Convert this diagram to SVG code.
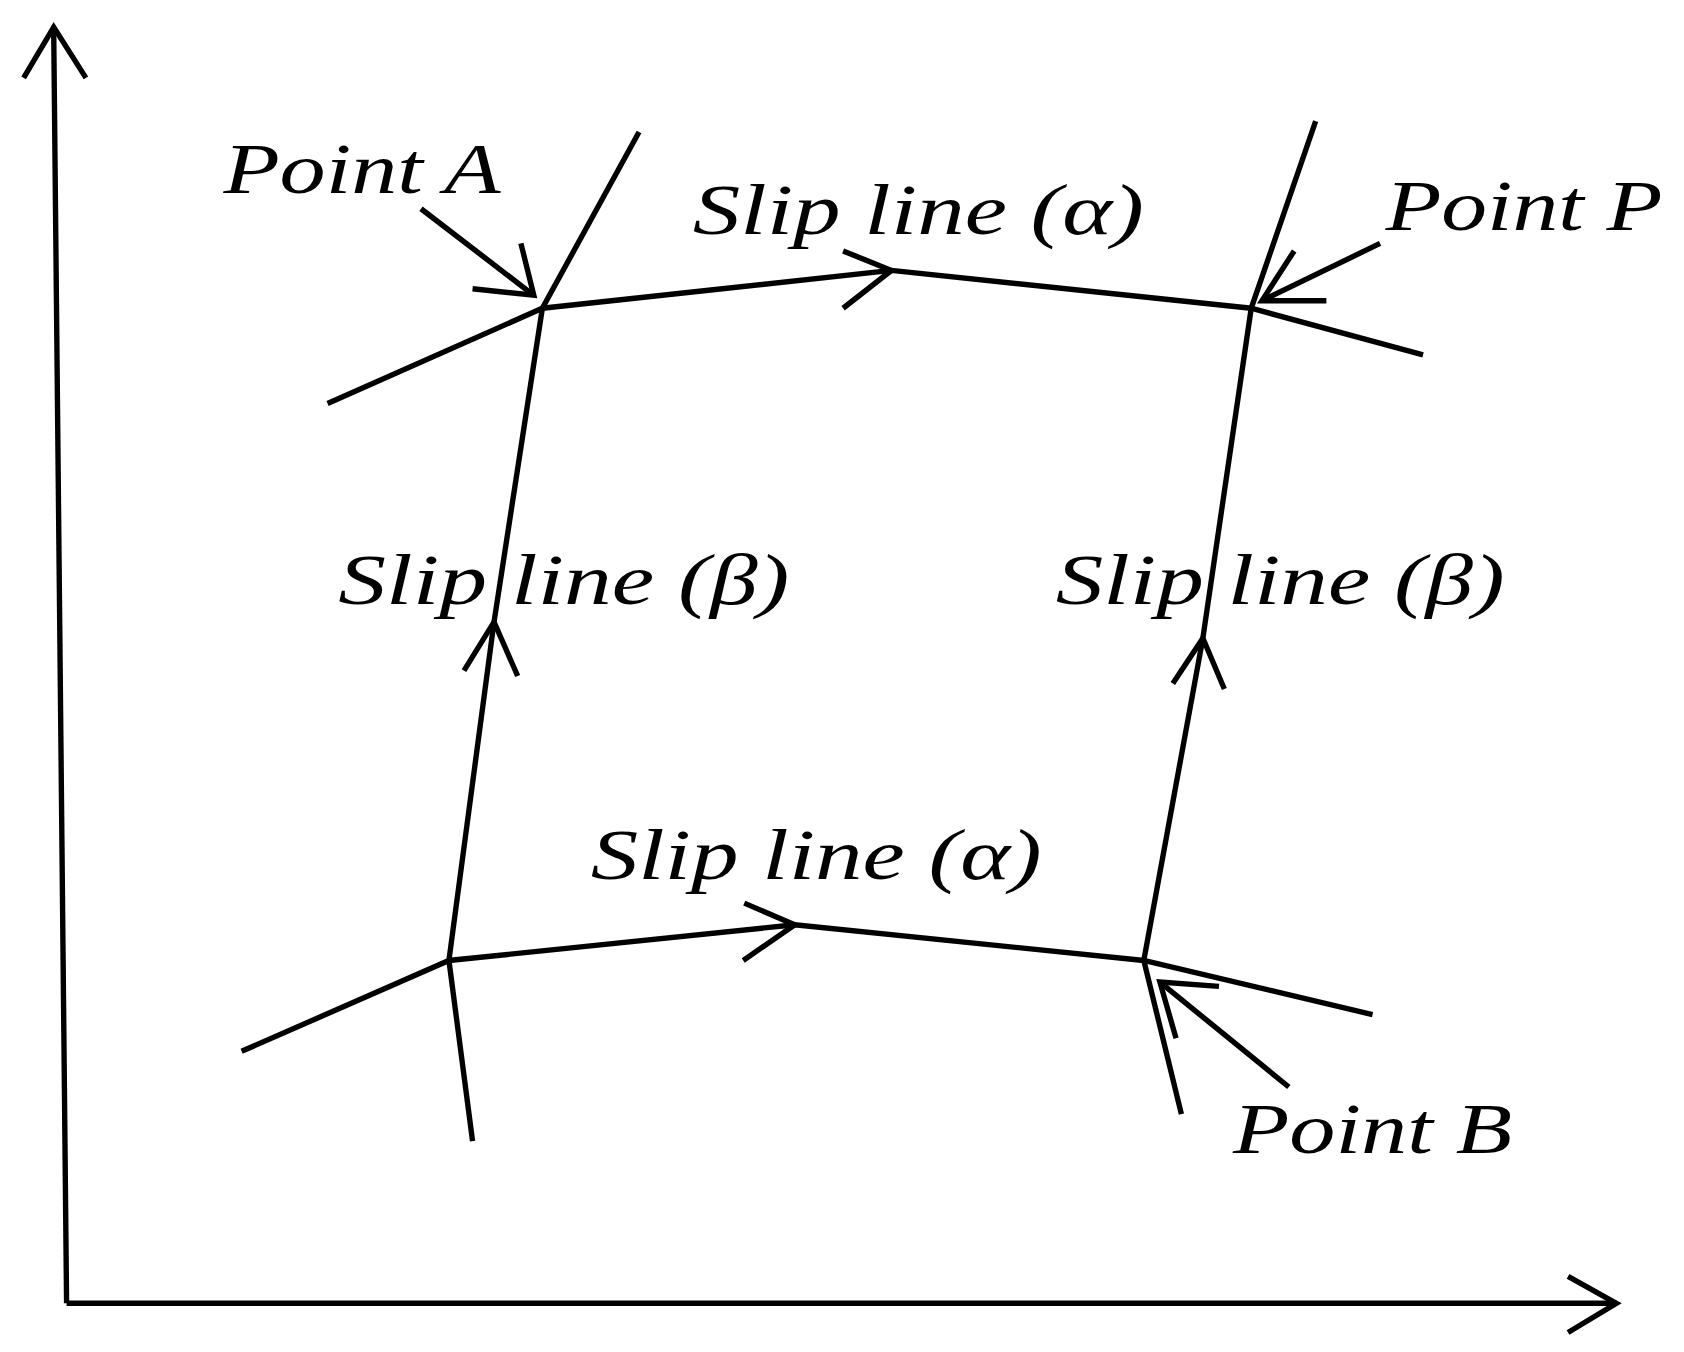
<svg xmlns="http://www.w3.org/2000/svg" width="1684" height="1352" viewBox="0 0 1684 1352">
<style>
.l{fill:none;stroke:#000;stroke-width:5;stroke-linejoin:miter;stroke-linecap:butt}
.t{font-family:"Liberation Serif",serif;font-style:italic;font-size:66px;fill:#000}
</style>
<rect width="1684" height="1352" fill="#fff"/>
<g transform="scale(1.074,1.0816)">
<g id="connectors">
<polyline class="l" points="62,1205 50,28"/>
<polyline class="l" points="22,72 50,25 80,72"/>
<polyline class="l" points="62,1205 1505,1205"/>
<polyline class="l" points="1460,1180 1505,1205 1460,1232"/>
<polyline class="l" points="305,373 505,285 830,250 1165,285 1325,328"/>
<polyline class="l" points="785,232 830,250 785,285"/>
<polyline class="l" points="595,122 505,285 460,575 418,888 440,1055"/>
<polyline class="l" points="432,620 460,575 482,625"/>
<polyline class="l" points="1225,112 1165,285 1120,590 1065,888 1100,1030"/>
<polyline class="l" points="1092,632 1120,590 1140,637"/>
<polyline class="l" points="225,972 418,888 740,855 1065,888 1278,938"/>
<polyline class="l" points="693,835 740,855 692,888"/>
<polyline class="l" points="392,193 497,273"/>
<polyline class="l" points="440,267 497,273 485,225"/>
<polyline class="l" points="1285,225 1175,278"/>
<polyline class="l" points="1235,278 1175,278 1205,232"/>
<polyline class="l" points="1200,1005 1080,908"/>
<polyline class="l" points="1135,912 1080,908 1095,960"/>
</g>
<g id="pointA"><text class="t" x="208" y="178" textLength="258" lengthAdjust="spacingAndGlyphs">Point A</text></g>
<g id="pointP"><text class="t" x="1290" y="213" textLength="258" lengthAdjust="spacingAndGlyphs">Point P</text></g>
<g id="pointB"><text class="t" x="1148" y="1066" textLength="260" lengthAdjust="spacingAndGlyphs">Point B</text></g>
<g id="alphaTop"><text class="t" x="645" y="216" textLength="420" lengthAdjust="spacingAndGlyphs">Slip line (α)</text></g>
<g id="alphaBottom"><text class="t" x="550" y="813" textLength="420" lengthAdjust="spacingAndGlyphs">Slip line (α)</text></g>
<g id="betaLeft"><text class="t" x="315" y="558" textLength="420" lengthAdjust="spacingAndGlyphs">Slip line (β)</text></g>
<g id="betaRight"><text class="t" x="983" y="558" textLength="418" lengthAdjust="spacingAndGlyphs">Slip line (β)</text></g>
</g>
</svg>
